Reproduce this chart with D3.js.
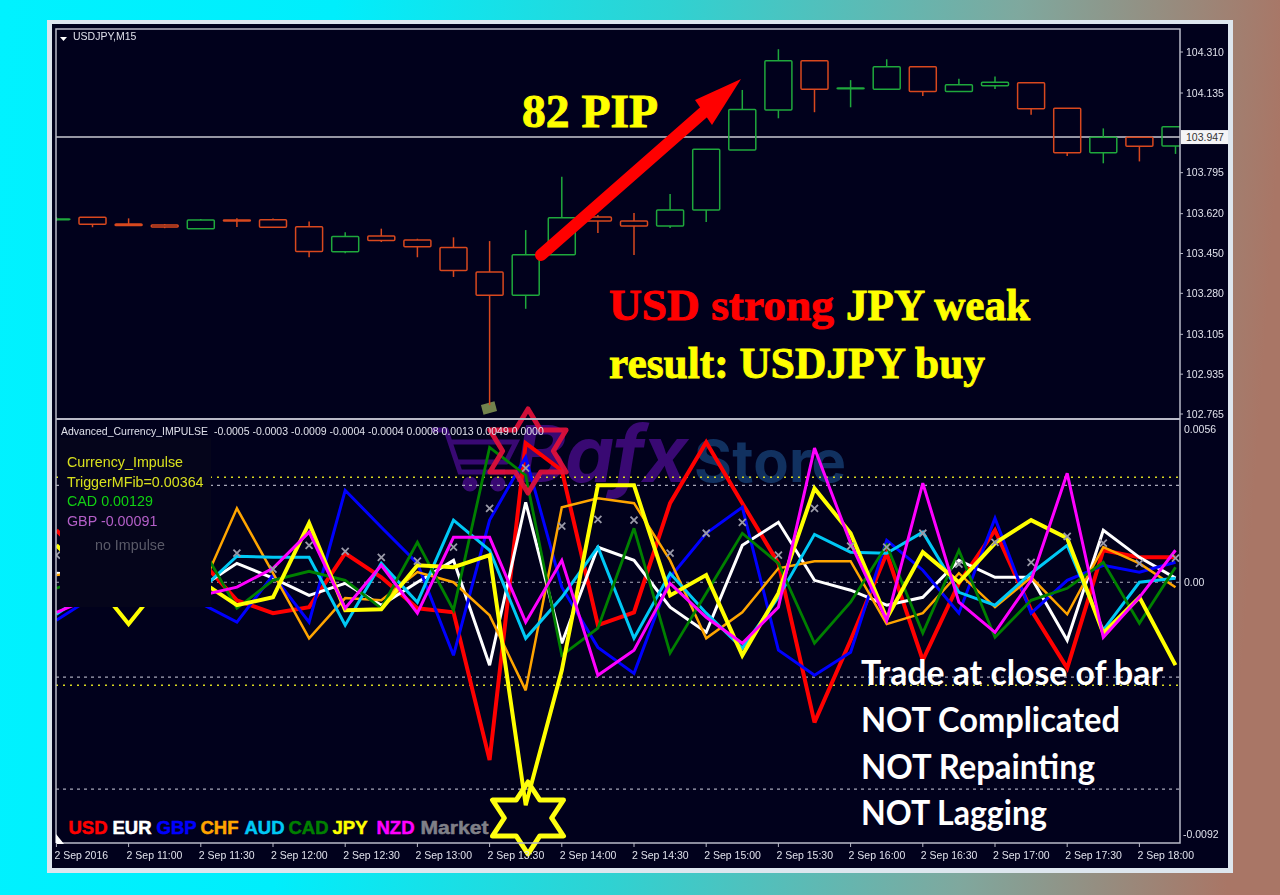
<!DOCTYPE html>
<html><head><meta charset="utf-8">
<style>
html,body{margin:0;padding:0;width:1280px;height:895px;overflow:hidden;background:linear-gradient(94deg,#00f2ff 0%,#00eefc 25%,#2fd2d2 50%,#7fa89e 76%,#a97666 96%);}
svg{display:block}
text{font-family:"Liberation Sans",Arial,sans-serif}
</style>
<script src="https://cdn.jsdelivr.net/npm/d3@7"></script>
</head><body>
<svg id="c" width="1280" height="895"></svg>
<script>
// ---- data: candles (price), 15 minute bars, USDJPY
const opens  = [103.597,103.605,103.576,103.572,103.556,103.593,103.594,103.564,103.458,103.525,103.508,103.476,103.371,103.272,103.445,103.606,103.589,103.567,103.636,103.892,104.062,104.273,104.156,104.151,104.247,104.141,104.166,104.179,104.070,103.880,103.946,103.909];
const highs  = [103.605,103.605,103.600,103.576,103.597,103.600,103.599,103.587,103.541,103.556,103.513,103.519,103.503,103.550,103.778,103.614,103.623,103.704,103.895,104.148,104.322,104.273,104.190,104.279,104.247,104.196,104.205,104.179,104.070,103.984,103.946,103.991];
const lows   = [103.589,103.562,103.569,103.558,103.556,103.563,103.562,103.434,103.451,103.499,103.434,103.350,102.803,103.214,103.445,103.538,103.444,103.559,103.584,103.892,104.027,104.053,104.074,104.151,104.122,104.141,104.152,104.042,103.866,103.835,103.843,103.875];
const closes = [103.597,103.575,103.569,103.563,103.593,103.589,103.562,103.459,103.523,103.505,103.479,103.377,103.272,103.445,103.603,103.589,103.567,103.636,103.895,104.065,104.273,104.151,104.156,104.247,104.141,104.170,104.181,104.068,103.880,103.946,103.908,103.991];
const priceTicks = [104.310,104.135,103.795,103.620,103.450,103.280,103.105,102.935,102.765];
const lastPrice = 103.947;
const timeLabels = ["2 Sep 2016","2 Sep 11:00","2 Sep 11:30","2 Sep 12:00","2 Sep 12:30","2 Sep 13:00","2 Sep 13:30","2 Sep 14:00","2 Sep 14:30","2 Sep 15:00","2 Sep 15:30","2 Sep 16:00","2 Sep 16:30","2 Sep 17:00","2 Sep 17:30","2 Sep 18:00"];
// indicator values, in units of 0.0001
const usd = [19.0,6.2,4.4,2.6,8.0,-6.6,-11.3,-9.1,10.6,1.8,-9.5,-11.0,-65.0,50.8,40.9,-15.7,-11.0,28.9,51.2,28.9,6.9,-51.2,-21.2,10.6,-28.5,-0.4,19.0,-10.2,-31.4,11.7,9.1,9.1];
const eur = [3.3,2.6,4.4,0.7,-1.8,6.9,1.5,-4.8,-0.4,-8.4,0,8.0,-30.3,29.2,-22.3,12.8,8.0,-9.1,-18.3,13.5,21.9,0.7,-2.9,-8.4,-5.5,8.0,1.8,1.8,-21.2,19.0,9.1,1.5];
const gbp = [-13.9,-5.5,-1.1,-2.9,-7.7,-14.6,2.6,-14.6,33.6,20.1,6.9,-26.7,22.7,45.7,-1.8,-23.8,-33.3,1.8,17.9,27.4,-24.8,-34.0,-25.6,15.3,4.4,-11.3,23.4,-11.3,0.7,6.2,3.7,7.3];
const chf = [2.6,4.4,8.0,6.2,-2.9,27.0,3.3,-20.5,-5.8,-6.6,3.7,0,-12.1,-39.5,27.4,30.7,28.9,8.0,-20.5,-11.0,5.1,7.7,7.7,-15.3,-11.3,3.3,-9.1,1.8,-11.7,12.8,6.9,-1.8];
const aud = [-11.7,-2.9,2.6,0.7,-2.9,9.5,9.1,9.1,-15.7,6.9,-7.3,22.7,11.7,-20.5,-5.5,12.8,-20.5,3.3,-11.3,-24.1,-5.5,17.5,11.0,10.6,18.3,-3.7,-8.4,3.3,13.5,-17.5,0,1.5];
const cad = [-2.2,2.6,6.2,8.0,13.5,-9.5,0.7,4.0,0.7,-9.5,14.6,-10.2,49.3,39.1,-26.7,-16.8,19.7,-25.9,-4.0,17.9,6.9,-22.3,-7.3,13.5,-18.6,11.7,-20.1,-6.6,-2.2,7.3,-15.0,5.5];
const jpy = [13.5,1.1,-15.3,1.1,0.4,-8.4,-5.5,21.6,-10.2,-9.9,6.2,5.5,9.9,-81.5,-32.2,35.4,35.4,-4.8,2.6,-26.7,-4.0,34.3,17.9,-13.2,11.0,0,14.3,22.7,16.1,-18.6,-5.5,-30.3];
const nzd = [-11.0,-5.5,0.7,-1.1,-4.8,-1.8,5.1,18.3,-9.5,6.2,-11.3,16.4,16.4,-14.6,8.0,-34.0,-24.8,-0.4,-12.8,-22.3,-9.1,49.0,14.3,-13.9,36.2,-7.3,-18.3,0.7,39.8,-20.1,-5.5,11.7];
const market = [9.9,11.7,9.9,8.0,8.8,10.6,4.8,13.5,11.3,9.1,7.7,12.8,27.0,41.7,20.5,23.0,22.7,10.6,17.9,21.9,9.9,27.0,13.2,12.8,17.9,6.6,14.6,7.3,16.8,14.3,6.9,8.8];
const seriesNames = ["USD","EUR","GBP","CHF","AUD","CAD","JPY","NZD"];
const seriesColors = ["#ff0000","#ffffff","#0000ff","#ffa500","#00c8f5","#008000","#ffff00","#ff00ff"];
const seriesWidths = [4,3,3,2.5,3,2.8,4,3];
const seriesValues = [usd,eur,gbp,chf,aud,cad,jpy,nzd];
const impulseAxis = [56,0,-92];
const levelsYellow = [38.4,-37.6];
const levelsGrey = [35.4,0,-34.7,-75.6];
const headerValues = "-0.0005 -0.0003 -0.0009 -0.0004 -0.0004 0.0008 0.0013 0.0049 0.0000";
const panelLegend = [["Currency_Impulse","#d8e01e"],["TriggerMFib=0.00364","#d8e01e"],["CAD 0.00129","#12d012"],["GBP -0.00091","#b45fc8"]];

const svg = d3.select("#c");
const defs = svg.append("defs");
const L=56,R=1180,T=29,D=419,B=843;
const x = d3.scaleLinear().domain([0,31]).range([56.4,1175.5]);
const yP = d3.scaleLinear().domain([102.765,104.31]).range([414,52]);
const yI = d3.scaleLinear().domain([-92,56]).range([834,429]);
defs.append("clipPath").attr("id","cp").append("rect").attr("x",L).attr("y",T).attr("width",R-L).attr("height",D-T);
defs.append("clipPath").attr("id","ci").append("rect").attr("x",L).attr("y",D).attr("width",R-L).attr("height",B-D);
const soft = defs.append("filter").attr("id","soft").attr("x","-5%").attr("y","-5%").attr("width","110%").attr("height","110%");
soft.append("feGaussianBlur").attr("stdDeviation",0.45);

// window frame
svg.append("rect").attr("x",47).attr("y",20).attr("width",1186).attr("height",853).attr("fill","#dde6ee");
svg.append("rect").attr("x",52).attr("y",24).attr("width",1176).attr("height",844).attr("fill","#01011c");

// watermark
const wm = svg.append("g").attr("opacity",0.95);
wm.append("text").attr("x",515).attr("y",482).attr("font-size",78).attr("font-weight",700).attr("font-style","italic").attr("fill","#3c0a78").style("font-family","Inter").attr("textLength",173).text("Bafx");
wm.append("text").attr("x",694).attr("y",482).attr("font-size",58).attr("font-weight",700).attr("fill","#123464").style("font-family","Inter").attr("textLength",152).text("Store");
const cart = wm.append("g").attr("fill","none").attr("stroke","#3c0a78").attr("stroke-width",5);
cart.append("path").attr("d","M432 430 H446 L460 472 H505 M450 442 H516 L506 462 H458");
cart.append("circle").attr("cx",470).attr("cy",484).attr("r",5).attr("fill","#3c0a78");
cart.append("circle").attr("cx",498).attr("cy",484).attr("r",5).attr("fill","#3c0a78");
wm.append("rect").attr("x",482).attr("y",403).attr("width",14).attr("height",10).attr("fill","#7a8a50").attr("transform","rotate(-15 489 408)");

// candle panel
const cg = svg.append("g").attr("clip-path","url(#cp)");
cg.append("line").attr("x1",L).attr("x2",R).attr("y1",yP(lastPrice)).attr("y2",yP(lastPrice)).attr("stroke","#c8c8d0").attr("stroke-width",1.6);
const up="#1fa83c", dn="#d8481e";
opens.forEach((o,i)=>{
  const c=closes[i], col=c>=o?up:dn, g=cg.append("g").attr("stroke",col).attr("stroke-width",1.5).attr("fill","none");
  const top=yP(Math.max(o,c)), bot=yP(Math.min(o,c));
  g.append("line").attr("x1",x(i)).attr("x2",x(i)).attr("y1",yP(highs[i])).attr("y2",top);
  g.append("line").attr("x1",x(i)).attr("x2",x(i)).attr("y1",bot).attr("y2",yP(lows[i]));
  g.append("rect").attr("x",x(i)-13.5).attr("width",27).attr("y",top).attr("height",Math.max(bot-top,0.6)).attr("rx",1);
});

// indicator panel
const ig = svg.append("g").attr("clip-path","url(#ci)");
levelsYellow.forEach(v=>ig.append("line").attr("x1",L).attr("x2",R).attr("y1",yI(v)).attr("y2",yI(v)).attr("stroke","#d8d820").attr("stroke-width",1.5).attr("stroke-dasharray","2 5"));
levelsGrey.forEach(v=>ig.append("line").attr("x1",L).attr("x2",R).attr("y1",yI(v)).attr("y2",yI(v)).attr("stroke","#a8a8b8").attr("stroke-width",1.2).attr("stroke-dasharray","3 4"));
const line = d3.line().x((d,i)=>x(i)).y(d=>yI(d));
seriesValues.forEach((vals,k)=>{
  ig.append("path").datum(vals).attr("d",line).attr("fill","none").attr("stroke",seriesColors[k]).attr("stroke-width",seriesWidths[k]).attr("stroke-linejoin","miter").attr("stroke-miterlimit",3);
});
market.forEach((v,i)=>{
  const X=x(i),Y=yI(v);
  ig.append("path").attr("d",`M${X-3.5} ${Y-3.5}L${X+3.5} ${Y+3.5}M${X-3.5} ${Y+3.5}L${X+3.5} ${Y-3.5}`).attr("stroke","#9a9aa8").attr("stroke-width",1.8);
});
// legend box on the indicator
svg.append("rect").attr("x",60).attr("y",438).attr("width",151).attr("height",169).attr("fill","#05051b");
panelLegend.forEach((d,i)=>svg.append("text").attr("x",67).attr("y",467+i*19.7).attr("font-size",14.3).attr("fill",d[1]).attr("filter","url(#soft)").text(d[0]));
svg.append("text").attr("x",95).attr("y",550).attr("font-size",14.3).attr("fill","#5a5a68").attr("filter","url(#soft)").text("no Impulse");

// hexagram stars
function star(cx,cy,rx,ry){
  const pts=d3.range(12).map(i=>{const a=-Math.PI/2+i*Math.PI/6,r=i%2?0.577:1;return [cx+rx*r*Math.cos(a),cy+ry*r*Math.sin(a)];});
  return d3.line()(pts)+"Z";
}
svg.append("path").attr("d",star(528,451,44,42)).attr("fill","none").attr("stroke","#e3103a").attr("stroke-width",5).attr("stroke-linejoin","round").attr("opacity",0.92);
svg.append("path").attr("d",star(528,818,41,36)).attr("fill","none").attr("stroke","#ffff10").attr("stroke-width",5).attr("stroke-linejoin","round");

// panel borders
const bc="#b9bac8";
svg.append("path").attr("d",`M${L} ${B}V${T}H${R}V${B}H${L}`).attr("fill","none").attr("stroke",bc).attr("stroke-width",1.5);
svg.append("line").attr("x1",L).attr("x2",R).attr("y1",D).attr("y2",D).attr("stroke",bc).attr("stroke-width",2.2);
svg.append("path").attr("d",`M${L} 834L${L} 844L${L+8} 844Z`).attr("fill","#fff");

// axes
const small = svg.append("g").attr("fill","#dfe0ea").attr("font-size",10.5).attr("filter","url(#soft)");
priceTicks.forEach(p=>{
  small.append("text").attr("x",1186).attr("y",yP(p)+3.5).text(p.toFixed(3));
  svg.append("line").attr("x1",R).attr("x2",R+3).attr("y1",yP(p)).attr("y2",yP(p)).attr("stroke",bc);
});
svg.append("rect").attr("x",R+1).attr("y",yP(lastPrice)-7).attr("width",47).attr("height",14).attr("fill","#f4f4f6");
svg.append("text").attr("x",1186).attr("y",yP(lastPrice)+3.5).attr("font-size",10.5).attr("fill","#333").text(lastPrice.toFixed(3));
impulseAxis.forEach(v=>{
  small.append("text").attr("x",v<0?1183:1184).attr("y",yI(v)+3.5).text(v===0?"0.00":(v/1e4).toFixed(4));
});
timeLabels.forEach((t,i)=>{
  const X=x(i*2);
  svg.append("line").attr("x1",X).attr("x2",X).attr("y1",B).attr("y2",B+4).attr("stroke",bc);
  small.append("text").attr("x",X-2).attr("y",859).text(t);
});
small.append("path").attr("d","M60 37H67L63.5 41Z").attr("fill","#fff");
small.append("text").attr("x",73).attr("y",40).attr("font-size",10.5).text("USDJPY,M15");
small.append("text").attr("x",61).attr("y",435).attr("xml:space","preserve").text("Advanced_Currency_IMPULSE  "+headerValues);

// bottom currency legend
const legendLabels = seriesNames.concat(["Market"]);
const legendColors = seriesColors.concat(["#808088"]);
legendLabels.forEach((n,i)=>{
  const t=svg.append("text").attr("x",68.5+i*44).attr("y",834).attr("font-size",18.5).attr("font-weight",700).attr("fill",legendColors[i]).attr("stroke",legendColors[i]).attr("stroke-width",0.5).text(n);
  if(n==="Market") t.attr("textLength",68).attr("lengthAdjust","spacingAndGlyphs");
});

// arrow
svg.append("line").attr("x1",541).attr("y1",255).attr("x2",705).attr("y2",111).attr("stroke","#ff0000").attr("stroke-width",12).attr("stroke-linecap","round");
svg.append("path").attr("d",d3.line()([[741,79],[695,100],[712,125]])+"Z").attr("fill","#ff0000");

// annotations
const serif = (s,len)=>s.style("font-family",'"Liberation Serif",serif').attr("font-weight",700).attr("stroke-width",0.9).attr("textLength",len).attr("lengthAdjust","spacingAndGlyphs");
serif(svg.append("text").attr("x",522).attr("y",127).attr("font-size",46).attr("fill","#ffff00").attr("stroke","#ffff00"),136).text("82 PIP");
serif(svg.append("text").attr("x",609).attr("y",320).attr("font-size",45).attr("fill","#ff0000").attr("stroke","#ff0000"),225).text("USD strong");
serif(svg.append("text").attr("x",846).attr("y",320).attr("font-size",45).attr("fill","#ffff00").attr("stroke","#ffff00"),184).text("JPY weak");
serif(svg.append("text").attr("x",609).attr("y",378).attr("font-size",45).attr("fill","#ffff00").attr("stroke","#ffff00"),376).text("result: USDJPY buy");
const notes = ["Trade at close of bar","NOT Complicated","NOT Repainting","NOT Lagging"];
const noteLens = [302,259,234,186];
notes.forEach((t,i)=>{
  svg.append("text").attr("x",861).attr("y",685+i*46.8).attr("font-size",35).attr("font-weight",700).style("font-family","Lato").attr("fill","#fff").attr("textLength",noteLens[i]).attr("lengthAdjust","spacingAndGlyphs").text(t);
});
</script>
</body></html>
